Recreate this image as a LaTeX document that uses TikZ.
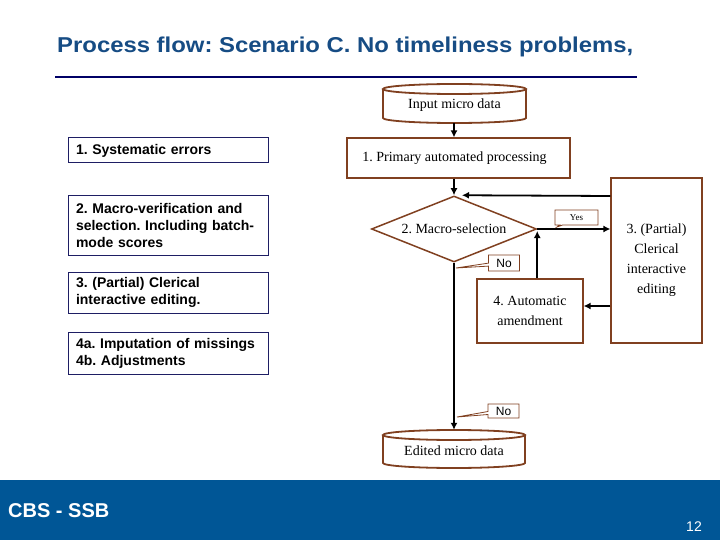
\documentclass[tikz,border=0pt]{standalone}
\usepackage{fontspec}
\usepackage{graphicx}
\setmainfont{Liberation Serif}
\setsansfont{Liberation Sans}
\frenchspacing
\usetikzlibrary{shapes.geometric,shapes.callouts,arrows.meta,calc}
\definecolor{titleblue}{RGB}{22,76,132}
\definecolor{navyline}{RGB}{0,0,102}
\definecolor{boxnavy}{RGB}{30,30,100}
\definecolor{flowbrown}{RGB}{128,64,32}
\definecolor{footblue}{RGB}{0,86,150}
\begin{document}
\begin{tikzpicture}[x=1pt,y=-1pt,
  leftbox/.style={draw=boxnavy, line width=1pt, inner xsep=8pt, inner ysep=0pt, text width=184pt, align=left,
    font=\sffamily\bfseries\fontsize{14pt}{17pt}\selectfont},
  flowbox/.style={draw=flowbrown, line width=1.2pt, align=center, inner sep=0pt,
    font=\fontsize{14pt}{20pt}\selectfont},
  cyltext/.style={inner sep=0pt, font=\fontsize{14pt}{17pt}\selectfont},
  cylline/.style={draw=flowbrown, line width=1.8pt},
  arr/.style={-{Latex[length=7pt,width=7pt]}, line width=1.8pt},
  tag/.style={rectangle callout, draw=flowbrown, line width=0.8pt, fill=white, inner sep=0pt, callout pointer width=3pt}
]
\useasboundingbox (0,0) rectangle (720,540);
\fill[white] (0,0) rectangle (720,540);

% title
\node[anchor=base west, inner sep=0pt, text=titleblue, font=\sffamily\bfseries\fontsize{21.5pt}{26pt}\selectfont] (title) at (57,53) {\resizebox{576pt}{\height}{Process flow: Scenario C. No timeliness problems,}};
\draw[navyline, line width=2pt] (55,77) -- (637,77);

% left legend boxes
\node[leftbox, minimum height=25pt] (l1) at (168,150.5) {\mbox{1. Systematic errors}};
\node[leftbox, minimum height=59pt] (l2) at (168,225.5) {\mbox{2. Macro-verification and}\\\mbox{selection. Including batch-}\\\mbox{mode scores}};
\node[leftbox, minimum height=41pt] (l3) at (168,292.5) {\mbox{3. (Partial) Clerical}\\\mbox{interactive editing.}};
\node[leftbox, minimum height=42pt] (l4) at (168,353) {\mbox{4a. Imputation of missings}\\\mbox{4b. Adjustments}};

% input cylinder
\draw[cylline, fill=white] (383,89) -- (383,118) arc[start angle=180, end angle=360, x radius=71.5pt, y radius=5pt] -- (526,89);
\draw[cylline] (454.5,89) ellipse[x radius=71.5pt, y radius=5pt];
\node[cyltext, minimum width=143pt, minimum height=36pt] (inp) at (454.5,105) {Input micro data};

% primary processing
\node[flowbox, minimum width=223pt, minimum height=40pt] (prim) at (458.5,158) {\hspace*{-8pt}1. Primary automated processing};

% diamond
\node[diamond, aspect=2.5, draw=flowbrown, line width=1.5pt, minimum width=165pt, minimum height=66pt, inner sep=0pt,
  font=\fontsize{14pt}{17pt}\selectfont] (dia) at (454,229) {2. Macro-selection};

% clerical
\node[flowbox, minimum width=91pt, minimum height=165pt] (cler) at (656.5,260.5) {3. (Partial)\\Clerical\\interactive\\editing};

% automatic amendment
\node[flowbox, minimum width=106pt, minimum height=64pt] (amd) at (530,311) {4. Automatic\\amendment};

% edited cylinder
\draw[cylline, fill=white] (383,435) -- (383,463) arc[start angle=180, end angle=360, x radius=71pt, y radius=5pt] -- (525,435);
\draw[cylline] (454,435) ellipse[x radius=71pt, y radius=5pt];
\node[cyltext, minimum width=142pt, minimum height=42pt] (edt) at (454,451) {Edited micro data};

% connectors
\draw[arr] (inp.south -| dia.north) -- (prim.north -| dia.north);
\draw[arr] (prim.south -| dia.north) -- (dia.north);
\draw[arr] (cler.west |- 0,196) -- ([xshift=8pt]dia.north);
\draw[arr] (dia.east) -- (dia.east -| cler.west);
\draw[arr] (amd.north -| dia.east) -- ([yshift=-2pt]dia.east);
\draw[arr] (cler.west |- 0,306) -- (amd.east |- 0,306);
\draw[arr] (dia.south) -- (edt.north);

% tags
\node[tag, minimum width=43pt, minimum height=15pt, callout absolute pointer={(557,227)},
  font=\fontsize{9pt}{10pt}\selectfont] (yes) at (576.5,217.5) {Yes};
\node[tag, minimum width=31pt, minimum height=16pt, callout absolute pointer={(456,268)},
  font=\sffamily\fontsize{12pt}{13pt}\selectfont] (no1) at (504,263) {No};
\node[tag, minimum width=31pt, minimum height=14pt, callout absolute pointer={(457,417)},
  font=\sffamily\fontsize{12pt}{13pt}\selectfont] (no2) at (503.5,411) {No};

% footer
\fill[footblue] (0,480) rectangle (720,540);
\node[anchor=west, inner sep=0pt, text=white, font=\sffamily\bfseries\fontsize{20pt}{22pt}\selectfont] (cbs) at (8,511) {CBS - SSB};
\node[inner sep=0pt, text=white, font=\sffamily\fontsize{14pt}{16pt}\selectfont] (pg) at (694,527) {12};
\end{tikzpicture}
\end{document}
